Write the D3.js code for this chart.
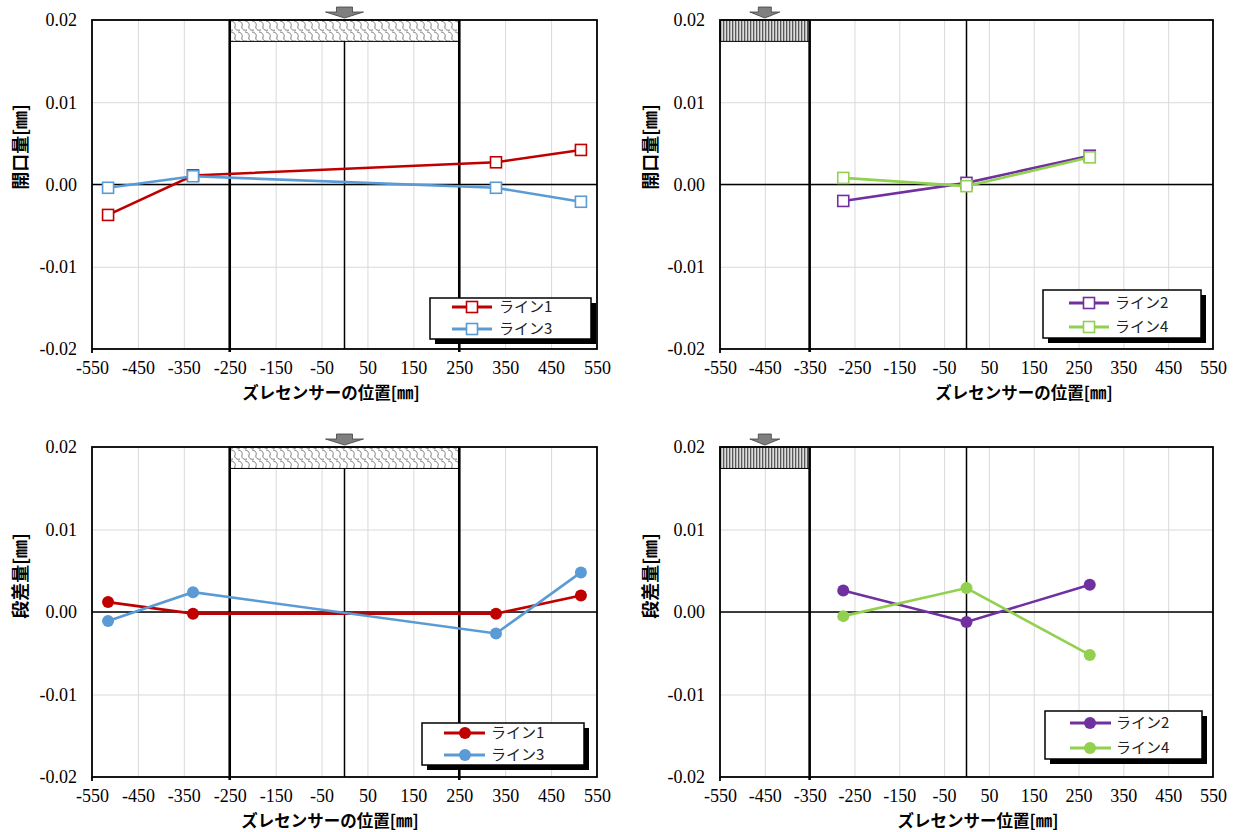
<!DOCTYPE html>
<html><head><meta charset="utf-8">
<script src="https://cdn.jsdelivr.net/npm/d3@7"></script>
<style>body{margin:0;background:#fff}svg{display:block}
.tk text{font-family:'Liberation Serif','Times New Roman','DejaVu Serif',serif !important;font-size:18px;fill:#000}
</style>
</head><body>
<svg id="c" width="1239" height="832"></svg>
<script>
// ---------- data ----------
const xOuterPositions = [-515, -330, 330, 515];   // ライン1 / ライン3 sensor positions
const xInnerPositions = [-275, 0, 275];           // ライン2 / ライン4 sensor positions
const openLine1 = [-0.0037, 0.0011, 0.0027, 0.0042];
const openLine3 = [-0.0004, 0.0010, -0.0004, -0.0021];
const openLine2 = [-0.0020, 0.0002, 0.0035];
const openLine4 = [0.0008, -0.0002, 0.0033];
const stepLine1 = [0.0012, -0.0002, -0.0002, 0.0020];
const stepLine3 = [-0.0011, 0.0024, -0.0026, 0.0048];
const stepLine2 = [0.0026, -0.0012, 0.0033];
const stepLine4 = [-0.0005, 0.0029, -0.0052];
const xTickValues = [-550, -450, -350, -250, -150, -50, 50, 150, 250, 350, 450, 550];
const yTickValues = [0.02, 0.01, 0.00, -0.01, -0.02];
const seriesNames = ["ライン1", "ライン3", "ライン2", "ライン4"];
const yTitles = ["開口量[㎜]", "段差量[㎜]"];
const xTitles = ["ズレセンサーの位置[㎜]", "ズレセンサー位置[㎜]"];

const colors = {"ライン1": "#C00000", "ライン3": "#5B9BD5", "ライン2": "#7030A0", "ライン4": "#92D050"};

// ---------- panel layout ----------
const panels = [
  {L:92, R:597, T:20, B:349, xs:xOuterPositions, series:[[seriesNames[0], openLine1],[seriesNames[1], openLine3]],
   marker:"square", thick:[-250,250], box:[-250,250], pat:"url(#scallop)", arrowX:0, arrowW:38, shaftW:16,
   yTitle:yTitles[0], yTitleX:19, yTitleY:147, xTitle:xTitles[0], xTitleX:331, xTitleY:392,
   leg:{x:430,y:298,w:161,h:41,r:[9,31],l1:22,l2:62,m:42,t:69}},
  {L:720, R:1213, T:20, B:349, xs:xInnerPositions, series:[[seriesNames[2], openLine2],[seriesNames[3], openLine4]],
   marker:"square", thick:[-350], box:[-550,-350], pat:"url(#stripes)", arrowX:-450, arrowW:30, shaftW:13,
   yTitle:yTitles[0], yTitleX:649, yTitleY:147, xTitle:xTitles[0], xTitleX:1024, xTitleY:392,
   leg:{x:1043,y:290,w:158,h:48,r:[13,37],l1:26,l2:66,m:46,t:72}},
  {L:92, R:597, T:447, B:777, xs:xOuterPositions, series:[[seriesNames[0], stepLine1],[seriesNames[1], stepLine3]],
   marker:"circle", thick:[-250,250], box:[-250,250], pat:"url(#scallop)", arrowX:0, arrowW:38, shaftW:16,
   yTitle:yTitles[1], yTitleX:19, yTitleY:576, xTitle:xTitles[0], xTitleX:330, xTitleY:820,
   leg:{x:422,y:723,w:162,h:42,r:[10,32],l1:22,l2:63,m:43,t:69}},
  {L:720, R:1213, T:447, B:777, xs:xInnerPositions, series:[[seriesNames[2], stepLine2],[seriesNames[3], stepLine4]],
   marker:"circle", thick:[-350], box:[-550,-350], pat:"url(#stripes)", arrowX:-450, arrowW:30, shaftW:13,
   yTitle:yTitles[1], yTitleX:649, yTitleY:576, xTitle:xTitles[1], xTitleX:978, xTitleY:820,
   leg:{x:1045,y:711,w:157,h:48,r:[12,37],l1:25,l2:66,m:45,t:71}}
];

const svg = d3.select("#c");
svg.append("rect").attr("width",1239).attr("height",832).attr("fill","#fff");

// patterns
const defs = svg.append("defs");
const sc = defs.append("pattern").attr("id","scallop").attr("patternUnits","userSpaceOnUse")
  .attr("x",0).attr("y",20).attr("width",14).attr("height",11);
sc.append("rect").attr("width",14).attr("height",11).attr("fill","#fff");
sc.append("path")
  .attr("d","M0,1 C3,1 5,4 4,6 C3,9 6,11 9,10 M7,1 C10,1 12,4 11,6 C10,9 13,11 16,10 M-7,1 C-4,1 -2,4 -3,6 C-4,9 -1,11 2,10")
  .attr("fill","none").attr("stroke","#7a7a7a").attr("stroke-width",1);
const st = defs.append("pattern").attr("id","stripes").attr("patternUnits","userSpaceOnUse")
  .attr("width",3).attr("height",4);
st.append("rect").attr("width",3).attr("height",4).attr("fill","#dcdcdc");
st.append("rect").attr("width",1.3).attr("height",4).attr("fill","#5a5a5a");

const gothic = "'Noto Sans CJK JP','Noto Sans CJK SC',sans-serif";
const fmtX = d => String(d).replace("\u2212","-");
const fmtY = d => d3.format(".2f")(d).replace("\u2212","-");

panels.forEach(p => {
  const x = d3.scaleLinear().domain([-550,550]).range([p.L,p.R]);
  const y = d3.scaleLinear().domain([-0.02,0.02]).range([p.B,p.T]);
  const g = svg.append("g");
  const H = p.B - p.T, W = p.R - p.L;

  // vertical gridlines
  const gx = g.append("g").attr("transform",`translate(0,${p.B})`)
    .call(d3.axisBottom(x).tickValues(xTickValues.slice(1,-1)).tickSize(-H).tickFormat(""));
  gx.select(".domain").remove();
  gx.selectAll("line").attr("stroke","#d9d9d9").attr("stroke-width",1);
  // horizontal gridlines
  const gy = g.append("g").attr("transform",`translate(${p.L},0)`)
    .call(d3.axisLeft(y).tickValues(yTickValues.slice(1,-1)).tickSize(-W).tickFormat(""));
  gy.select(".domain").remove();
  gy.selectAll("line").attr("stroke","#d9d9d9").attr("stroke-width",1);

  // zero lines
  g.append("line").attr("x1",x(0)).attr("x2",x(0)).attr("y1",p.T).attr("y2",p.B)
    .attr("stroke","#000").attr("stroke-width",1.5);
  g.append("line").attr("x1",p.L).attr("x2",p.R).attr("y1",y(0)).attr("y2",y(0))
    .attr("stroke","#000").attr("stroke-width",1.5);

  // hatched box
  g.append("rect").attr("x",x(p.box[0])).attr("y",y(0.02))
    .attr("width",x(p.box[1])-x(p.box[0])).attr("height",y(0.0174)-y(0.02))
    .attr("fill",p.pat).attr("stroke","#000").attr("stroke-width",1);

  // thick lines
  p.thick.forEach(v => {
    g.append("line").attr("x1",x(v)).attr("x2",x(v)).attr("y1",p.T).attr("y2",p.B+3)
      .attr("stroke","#000").attr("stroke-width",2.6);
  });

  // border
  g.append("rect").attr("x",p.L).attr("y",p.T).attr("width",W).attr("height",H)
    .attr("fill","none").attr("stroke","#000").attr("stroke-width",1.8);
  g.append("line").attr("x1",p.L).attr("x2",p.L).attr("y1",p.B).attr("y2",p.B+4)
    .attr("stroke","#000").attr("stroke-width",1.8);

  // arrow
  const ax = x(p.arrowX), top = p.T - 13, mid = p.T - 8, tip = p.T - 2;
  g.append("path").attr("d",`M${ax-p.shaftW/2},${top} L${ax+p.shaftW/2},${top} L${ax+p.shaftW/2},${mid} L${ax+p.arrowW/2},${mid} L${ax},${tip} L${ax-p.arrowW/2},${mid} L${ax-p.shaftW/2},${mid} Z`)
    .attr("fill","#7f7f7f").attr("stroke","#404040").attr("stroke-width",0.8);

  // axis tick labels
  const axB = g.append("g").attr("class","tk").attr("transform",`translate(0,${p.B})`)
    .call(d3.axisBottom(x).tickValues(xTickValues).tickSize(0).tickPadding(12).tickFormat(fmtX));
  axB.select(".domain").remove();
  const axL = g.append("g").attr("class","tk").attr("transform",`translate(${p.L},0)`)
    .call(d3.axisLeft(y).tickValues(yTickValues).tickSize(0).tickPadding(15).tickFormat(fmtY));
  axL.select(".domain").remove();
  g.selectAll(".tk").attr("font-family",null).attr("font-size",null);

  // titles
  g.append("text").attr("transform",`translate(${p.yTitleX},${p.yTitleY}) rotate(-90)`)
    .attr("text-anchor","middle").attr("dominant-baseline","central")
    .attr("font-family",gothic).attr("font-weight","bold").attr("font-size",18).text(p.yTitle);
  g.append("text").attr("x",p.xTitleX).attr("y",p.xTitleY)
    .attr("text-anchor","middle").attr("dominant-baseline","central")
    .attr("font-family",gothic).attr("font-weight","bold").attr("font-size",16.5).text(p.xTitle);

  // series
  const drawMarker = (sel, cx, cy, col) => {
    if (p.marker === "square") {
      sel.append("rect").attr("x",cx-5.5).attr("y",cy-5.5).attr("width",11).attr("height",11)
        .attr("fill","#fff").attr("stroke",col).attr("stroke-width",1.6);
    } else {
      sel.append("circle").attr("cx",cx).attr("cy",cy).attr("r",6).attr("fill",col);
    }
  };
  const line = d3.line().x(d => x(d[0])).y(d => y(d[1]));
  p.series.forEach(([name, vals]) => {
    const pts = p.xs.map((xv,i) => [xv, vals[i]]);
    g.append("path").datum(pts).attr("d",line).attr("fill","none")
      .attr("stroke",colors[name]).attr("stroke-width",2.6);
    pts.forEach(d => drawMarker(g, x(d[0]), y(d[1]), colors[name]));
  });

  // legend
  const lg = p.leg;
  g.append("rect").attr("x",lg.x+5).attr("y",lg.y+5).attr("width",lg.w).attr("height",lg.h).attr("fill","#000");
  g.append("rect").attr("x",lg.x).attr("y",lg.y).attr("width",lg.w).attr("height",lg.h)
    .attr("fill","#fff").attr("stroke","#000").attr("stroke-width",1.5);
  p.series.forEach(([name], i) => {
    const yy = lg.y + lg.r[i];
    g.append("line").attr("x1",lg.x+lg.l1).attr("x2",lg.x+lg.l2).attr("y1",yy).attr("y2",yy)
      .attr("stroke",colors[name]).attr("stroke-width",3);
    drawMarker(g, lg.x+lg.m, yy, colors[name]);
    g.append("text").attr("x",lg.x+lg.t).attr("y",yy).attr("dy","0.36em")
      .attr("font-family","'Noto Sans CJK JP',sans-serif").attr("font-size",15).attr("fill","#222").text(name);
  });
});
</script>
</body></html>
